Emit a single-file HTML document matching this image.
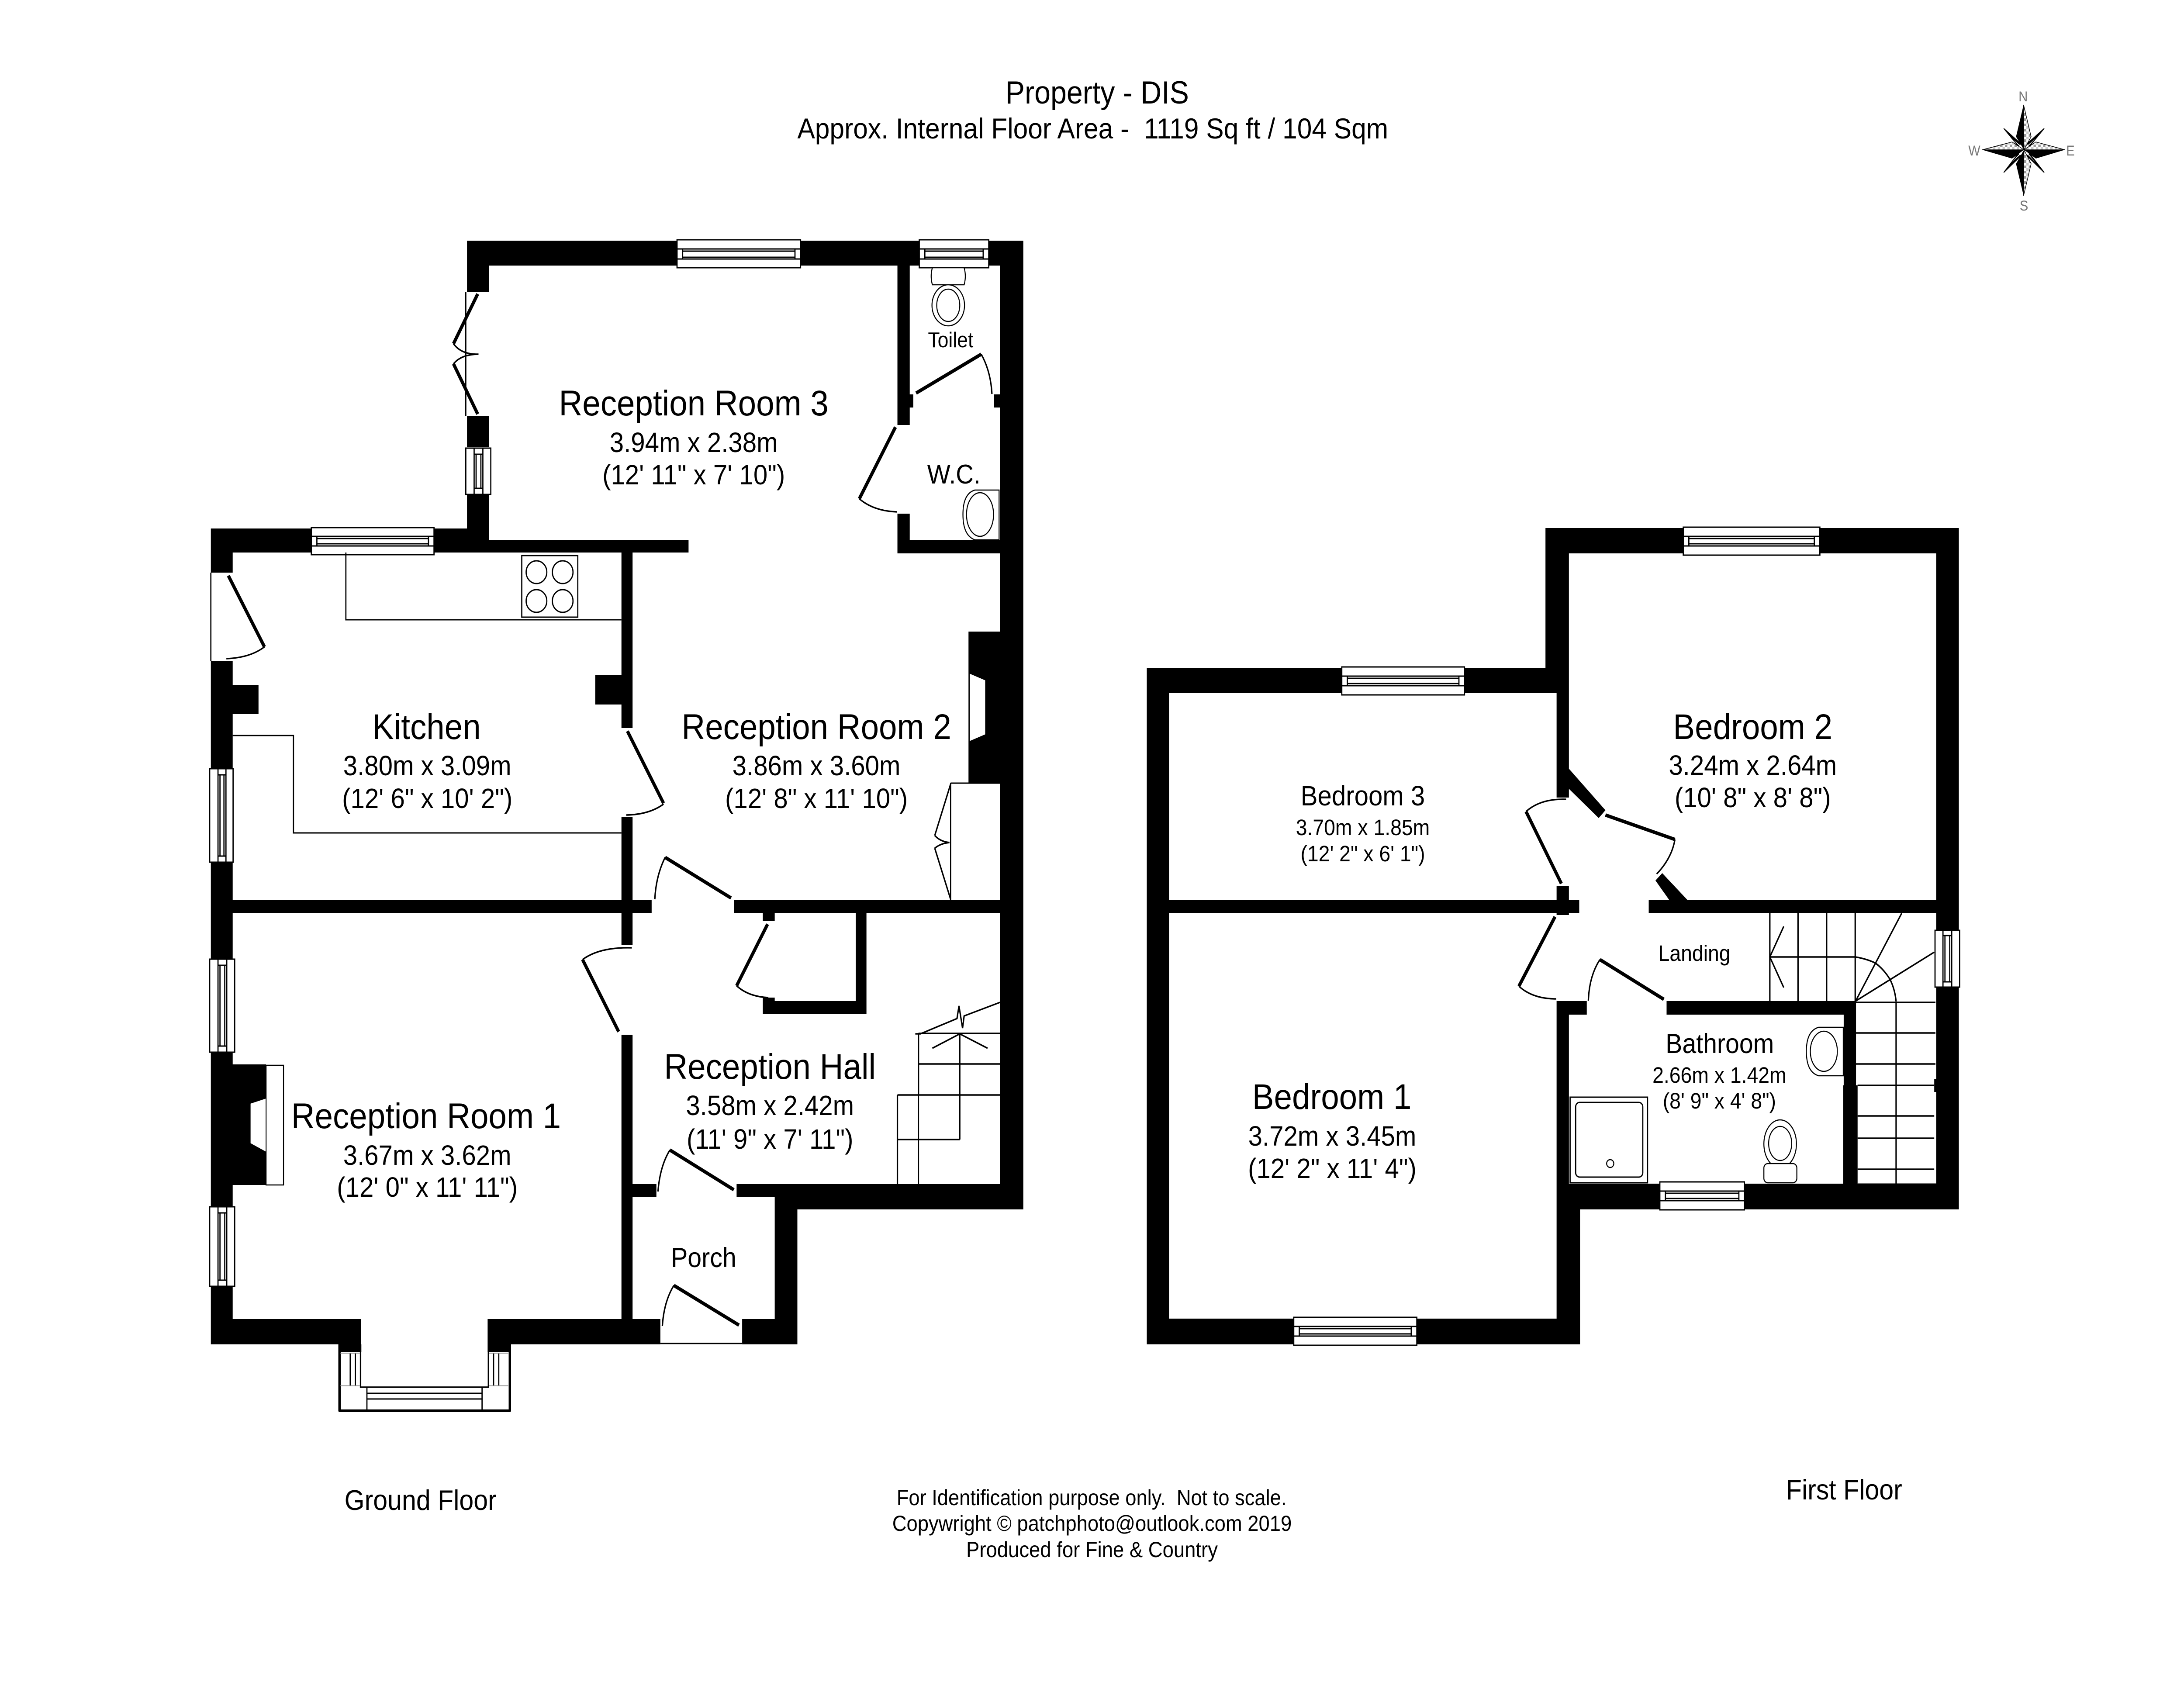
<!DOCTYPE html>
<html><head><meta charset="utf-8"><title>Property - DIS floor plan</title>
<style>
html,body{margin:0;padding:0;background:#fff;width:100%;height:100%;overflow:hidden}
svg{display:block;width:100vw;height:100vh}
text{font-family:"Liberation Sans",Arial,sans-serif;fill:#000;text-anchor:middle}
.a{font-size:82px}.b{font-size:64px}.c{font-size:51px}
.w{fill:#fff;stroke:#000;stroke-width:3}
.l{fill:none;stroke:#000;stroke-width:3}
.d{fill:none;stroke:#000;stroke-width:8}
.r{fill:none;stroke:#000;stroke-width:3.5}
.s{fill:none;stroke:#000;stroke-width:3.5}
.f{fill:#fff;stroke:#000;stroke-width:2.5}
.n{font-size:32px;fill:#777}
</style></head><body>
<svg xmlns="http://www.w3.org/2000/svg" viewBox="0 0 5500 3851" preserveAspectRatio="none">
<defs><pattern id="chk" width="12" height="12" patternUnits="userSpaceOnUse"><rect width="12" height="12" fill="#fff"/><rect width="6" height="6" fill="#999"/><rect x="6" y="6" width="6" height="6" fill="#ccc"/></pattern></defs>
<rect width="5500" height="3851" fill="#fff"/>

<!-- ground floor walls -->
<path fill="#000" d="
M1176 551H2577V608H1176Z
M1176 551H1232V668H1176Z
M1176 953H1232V1024H1176Z
M1176 1132H1232V1265H1176Z
M531 1210H1232V1265H531Z
M1232 1237H1734V1265H1232Z
M2518 551H2577V2769H2518Z
M531 1210H586V1311H531Z
M531 1514H586V3078H531Z
M586 1568H651V1635H586Z
M586 2061H1641V2090H586Z
M1848 2061H2518V2090H1848Z
M1565 1265H1593V1667H1565Z
M1565 1871H1593V2164H1565Z
M1565 2369H1593V3020H1565Z
M1499 1546H1565V1613H1499Z
M2439 1446H2518V1793H2439Z
M2260 608H2291V973H2260Z
M2260 1176H2291V1267H2260Z
M2260 1237H2518V1267H2260Z
M2291 903H2300V933H2291Z
M2503 903H2518V933H2503Z
M1921 2090H1951V2109H1921Z
M1921 2284H1951V2322H1921Z
M1921 2292H2182V2322H1921Z
M2155 2090H2182V2322H2155Z
M1593 2711H1653V2740H1593Z
M1855 2711H2518V2740H1855Z
M1951 2740H2577V2769H1951Z
M1951 2740H2008V3078H1951Z
M531 3020H909V3078H531Z
M1228 3020H1663V3078H1228Z
M1869 3020H2008V3078H1869Z
M852 3078H910V3095H852Z
M1228 3078H1287V3095H1228Z
M586 2437H670V2713H586Z"/>

<!-- RR1 fireplace -->
<rect class="f" x="670" y="2439" width="44" height="274"/>
<path fill="#fff" stroke="#000" stroke-width="2" d="M670 2514L630 2526V2618L670 2638Z"/>
<!-- RR2 fireplace -->
<path fill="#fff" stroke="#000" stroke-width="2" d="M2441 1541L2482 1557V1682L2441 1698Z"/>

<!-- ground floor windows -->
<g>
<rect class="w" x="1705" y="549" width="311" height="64"/><path class="l" d="M1705 570H2016M1705 593H2016M1719 570V593M2002 570V593M1719 575H2002M1719 589H2002"/>
<rect class="w" x="2315" y="549" width="175" height="64"/><path class="l" d="M2315 570H2490M2315 593H2490M2329 570V593M2476 570V593M2329 575H2476M2329 589H2476"/>
<rect class="w" x="784" y="1208" width="309" height="62"/><path class="l" d="M784 1228H1093M784 1250H1093M798 1228V1250M1079 1228V1250M798 1233H1079M798 1245H1079"/>
<rect class="w" x="1173" y="1026" width="63" height="106"/><path class="l" d="M1194 1026V1132M1216 1026V1132M1194 1040H1216M1194 1118H1216M1199 1040V1118M1211 1040V1118"/>
<rect class="w" x="528" y="1760" width="59" height="214"/><path class="l" d="M549 1760V1974M569 1760V1974M549 1774H569M549 1960H569M554 1774V1960M564 1774V1960"/>
<rect class="w" x="528" y="2196" width="63" height="213"/><path class="l" d="M549 2196V2409M571 2196V2409M549 2210H571M549 2395H571M554 2210V2395M566 2210V2395"/>
<rect class="w" x="528" y="2763" width="63" height="182"/><path class="l" d="M549 2763V2945M571 2763V2945M549 2777H571M549 2931H571M554 2777V2931M566 2777V2931"/>
</g>

<!-- bay window -->
<path fill="none" stroke="#000" stroke-width="6" stroke-linejoin="round" d="M855 3095V3230H1284V3095"/>
<path fill="none" stroke="#000" stroke-width="3.5" d="M908 3095V3176H1230V3095"/>
<path fill="none" stroke="#000" stroke-width="3" d="M882 3098V3173M895 3098V3173M1243 3098V3173M1256 3098V3173M924 3177V3228M1214 3177V3228M924 3190H1214M924 3203H1214"/>
<path fill="none" stroke="#888" stroke-width="2" d="M857 3098H907M857 3173H907M1232 3098H1280M1232 3173H1280"/>

<!-- kitchen fittings -->
<path class="l" d="M871 1265V1419H1565M586 1684H739V1907H1565"/>
<rect class="l" x="1314" y="1272" width="141" height="141"/>
<g class="l"><circle cx="1351" cy="1310" r="26"/><circle cx="1417" cy="1310" r="26"/><circle cx="1351" cy="1376" r="26"/><circle cx="1417" cy="1376" r="26"/></g>

<!-- ground floor doors -->
<path class="l" stroke-width="2" d="M1173 668V953M531 1311V1514"/>
<path class="d" d="M1203 673L1142 787M1203 948L1142 833"/>
<path class="r" d="M1142 787Q1162 812 1205 811Q1162 811 1142 833"/>
<path class="d" d="M575 1318L666 1481"/><path class="r" d="M666 1481Q630 1506 570 1508"/>
<path class="d" d="M1580 1674L1671 1839"/><path class="r" d="M1671 1841Q1635 1865 1577 1866"/>
<path class="d" d="M1675 1963L1841 2056"/><path class="r" d="M1675 1963Q1652 2005 1649 2059"/>
<path class="l" d="M2394 1793V2061M2394 1793H2518"/>
<path class="s" stroke-width="5" d="M2394 1795L2354 1913M2394 2059L2354 1942"/>
<path class="r" d="M2354 1913Q2368 1927 2391 1929Q2368 1931 2354 1942"/>
<path class="d" d="M2255 978L2164 1142"/><path class="r" d="M2164 1142Q2200 1170 2259 1172"/>
<path class="d" stroke-width="10" d="M2307 900L2471 811"/><path class="r" d="M2471 811Q2495 850 2498 902"/>
<path class="d" d="M1558 2362L1467 2197"/><path class="r" d="M1467 2197Q1510 2168 1591 2170"/>
<path class="d" d="M1933 2116L1855 2257"/><path class="r" d="M1855 2257Q1885 2282 1935 2284"/>
<path class="d" d="M1687 2633L1848 2724"/><path class="r" d="M1687 2633Q1662 2670 1657 2728"/>
<path class="d" d="M1697 2943L1861 3034"/><path class="r" d="M1697 2943Q1672 2980 1668 3036"/>
<path class="l" stroke-width="2" d="M1663 3076H1869"/>

<!-- WC sanitary -->
<path class="f" d="M2348 613H2428Q2434 632 2428 652H2348Q2342 632 2348 613Z"/>
<ellipse class="f" cx="2388" cy="699" rx="41" ry="47"/><ellipse class="f" cx="2388" cy="699" rx="29" ry="37"/>
<path class="f" d="M2516 1122H2455Q2425 1130 2425 1178Q2425 1226 2455 1236H2516Z"/>
<ellipse class="f" cx="2468" cy="1178" rx="34" ry="50"/>

<!-- ground floor stairs -->
<path class="s" d="M2313 2366H2518M2313 2436H2518M2260 2507H2518M2260 2609H2417M2313 2366V2507M2417 2366V2609M2260 2507V2711"/>
<path class="l" stroke-width="2" d="M2313 2507V2711"/>
<path class="s" d="M2348 2400L2417 2367L2487 2400"/>
<path class="s" stroke-width="3" d="M2305 2367H2318L2410 2332L2415 2303L2424 2354L2428 2326L2518 2295"/>

<!-- first floor walls -->
<path fill="#000" d="
M3892 1209H4933V1267H3892Z
M4876 1209H4933V2769H4876Z
M3892 1209H3951V1587H3892Z
M2888 1529H3951V1587H2888Z
M3920 1587H3951V1826H3920Z
M2888 1529H2944V3078H2888Z
M2944 2061H3977V2090H2944Z
M4152 2061H4876V2090H4152Z
M3920 2028H3951V2061H3920Z
M3920 2090H3951V2095H3920Z
M3951 1760L4043 1855L4026 1873L3951 1806Z
M4186 1999L4250 2061H4204L4169 2016Z
M3920 2292H3996V2323H3920Z
M4197 2292H4674V2323H4197Z
M3920 2293H3951V2710H3920Z
M3920 2710H4933V2769H3920Z
M3920 2769H3979V3078H3920Z
M2888 3019H3979V3078H2888Z
M4643 2292H4674V2485H4643Z
M4642 2485H4678V2711H4642Z
M4871 2470H4876V2500H4871Z"/>

<!-- first floor windows -->
<rect class="w" x="4239" y="1207" width="344" height="64"/><path class="l" d="M4239 1228H4583M4239 1250H4583M4253 1228V1250M4569 1228V1250M4253 1233H4569M4253 1245H4569"/>
<rect class="w" x="3379" y="1527" width="309" height="64"/><path class="l" d="M3379 1548H3688M3379 1570H3688M3393 1548V1570M3674 1548V1570M3393 1553H3674M3393 1565H3674"/>
<rect class="w" x="3258" y="3016" width="310" height="64"/><path class="l" d="M3258 3037H3568M3258 3059H3568M3272 3037V3059M3554 3037V3059M3272 3042H3554M3272 3054H3554"/>
<rect class="w" x="4180" y="2706" width="213" height="64"/><path class="l" d="M4180 2727H4393M4180 2749H4393M4194 2727V2749M4379 2727V2749M4194 2732H4379M4194 2744H4379"/>
<rect class="w" x="4873" y="2130" width="62" height="130"/><path class="l" d="M4893 2130V2260M4915 2130V2260M4893 2142H4915M4893 2248H4915M4898 2142V2248M4910 2142V2248"/>

<!-- first floor doors -->
<path class="d" d="M3932 2023L3843 1858"/><path class="r" d="M3843 1858Q3880 1828 3944 1830"/>
<path class="d" stroke-width="10" d="M4043 1866L4218 1922"/><path class="r" d="M4218 1922Q4210 1965 4172 2001"/>
<path class="d" d="M3916 2099L3825 2258"/><path class="r" d="M3825 2258Q3860 2287 3919 2287"/>
<path class="d" stroke-width="9" d="M4029 2197L4190 2288"/><path class="r" d="M4029 2197Q4002 2235 4000 2291"/>

<!-- first floor stairs -->
<path class="s" d="M4457 2090V2292M4528 2090V2292M4600 2090V2292M4672 2090V2292M4457 2191H4672Q4700 2195 4723 2205Q4745 2220 4760 2243Q4772 2265 4775 2293"/>
<path class="s" d="M4673 2292L4789 2091M4673 2292L4871 2180M4492 2121L4457 2191L4492 2261"/>
<path class="s" d="M4673 2295H4874M4673 2365H4874M4673 2436H4874M4678 2485H4871M4678 2555H4871M4678 2606H4871M4678 2677H4871M4775 2295V2711"/>
<path class="l" stroke-width="2" d="M4678 2711H4876"/>

<!-- bathroom sanitary -->
<path class="f" d="M4642 2352H4580Q4549 2360 4549 2407Q4549 2455 4580 2463H4642Z"/>
<ellipse class="f" cx="4593" cy="2407" rx="34" ry="46"/>
<ellipse class="f" cx="4483" cy="2619" rx="41" ry="55"/><ellipse class="f" cx="4483" cy="2618" rx="29" ry="39"/>
<rect class="f" x="4442" y="2664" width="83" height="44" rx="10"/>
<rect class="w" x="3954" y="2512" width="195" height="196"/>
<rect class="l" x="3968" y="2524" width="169" height="171" rx="10"/>
<circle class="f" cx="4055" cy="2664" r="9"/>

<!-- compass -->
<g transform="translate(5097 343)">
<path fill="#000" stroke="#000" stroke-width="2" d="M-51 -49L-8 -14L-14 -8ZM51 -49L8 -14L14 -8ZM-51 52L-8 14L-14 8ZM51 52L8 14L14 8Z"/>
<path fill="#fff" d="M-30 -25L-6 -8L-8 -6ZM28 -25L6 -8L8 -6ZM-30 28L-6 8L-8 6ZM28 28L6 8L8 6Z"/>
<path fill="#000" d="M-1 -103L-20 -30L0 0ZM-105 0L-30 20L0 0ZM-1 105L-20 32L0 0ZM103 0L30 20L0 0Z"/>
<path fill="url(#chk)" stroke="#000" stroke-width="1.5" d="M-1 -103L18 -30L0 0ZM-105 0L-30 -18L0 0ZM-1 105L18 32L0 0ZM103 0L30 -18L0 0Z"/>
</g>
<text class="n" x="5095" y="232">N</text>
<text class="n" x="5097" y="482">S</text>
<text class="n" x="4972" y="356">W</text>
<text class="n" x="5214" y="356">E</text>

<!-- header -->
<text x="2763" y="237" font-size="73" textLength="462" lengthAdjust="spacingAndGlyphs">Property - DIS</text>
<text x="2752" y="317" font-size="66" textLength="1488" lengthAdjust="spacingAndGlyphs">Approx. Internal Floor Area -&#160; 1119 Sq ft / 104 Sqm</text>

<!-- ground floor labels -->
<text class="a" x="1747" y="951">Reception Room 3</text>
<text class="b" x="1747" y="1035">3.94m x 2.38m</text>
<text class="b" x="1747" y="1109">(12' 11" x 7' 10")</text>
<text x="2394" y="795" font-size="49">Toilet</text>
<text x="2402" y="1107" font-size="62">W.C.</text>
<text class="a" x="1074" y="1692">Kitchen</text>
<text class="b" x="1076" y="1775">3.80m x 3.09m</text>
<text class="b" x="1076" y="1850">(12' 6" x 10' 2")</text>
<text class="a" x="2056" y="1692">Reception Room 2</text>
<text class="b" x="2056" y="1775">3.86m x 3.60m</text>
<text class="b" x="2056" y="1850">(12' 8" x 11' 10")</text>
<text class="a" x="1073" y="2583">Reception Room 1</text>
<text class="b" x="1076" y="2667">3.67m x 3.62m</text>
<text class="b" x="1076" y="2740">(12' 0" x 11' 11")</text>
<text class="a" x="1939" y="2470">Reception Hall</text>
<text class="b" x="1939" y="2553">3.58m x 2.42m</text>
<text class="b" x="1939" y="2630">(11' 9" x 7' 11")</text>
<text x="1772" y="2901" font-size="63">Porch</text>

<!-- first floor labels -->
<text class="a" x="4414" y="1692">Bedroom 2</text>
<text class="b" x="4414" y="1774">3.24m x 2.64m</text>
<text class="b" x="4414" y="1848">(10' 8" x 8' 8")</text>
<text class="b" x="3432" y="1844">Bedroom 3</text>
<text class="c" x="3432" y="1912">3.70m x 1.85m</text>
<text class="c" x="3432" y="1972">(12' 2" x 6' 1")</text>
<text class="c" x="4267" y="2200">Landing</text>
<text class="a" x="3354" y="2539">Bedroom 1</text>
<text class="b" x="3355" y="2623">3.72m x 3.45m</text>
<text class="b" x="3355" y="2697">(12' 2" x 11' 4")</text>
<text x="4331" y="2411" font-size="63">Bathroom</text>
<text class="c" x="4330" y="2479">2.66m x 1.42m</text>
<text class="c" x="4330" y="2538">(8' 9" x 4' 8")</text>

<!-- footer labels -->
<text x="1059" y="3457" font-size="65">Ground Floor</text>
<text x="4644" y="3433" font-size="65">First Floor</text>
<text x="2749" y="3446" font-size="50" textLength="982" lengthAdjust="spacingAndGlyphs">For Identification purpose only.&#160; Not to scale.</text>
<text x="2750" y="3505" font-size="50" textLength="1006" lengthAdjust="spacingAndGlyphs">Copywright © patchphoto@outlook.com 2019</text>
<text x="2750" y="3565" font-size="50">Produced for Fine &amp; Country</text>
</svg>
</body></html>
